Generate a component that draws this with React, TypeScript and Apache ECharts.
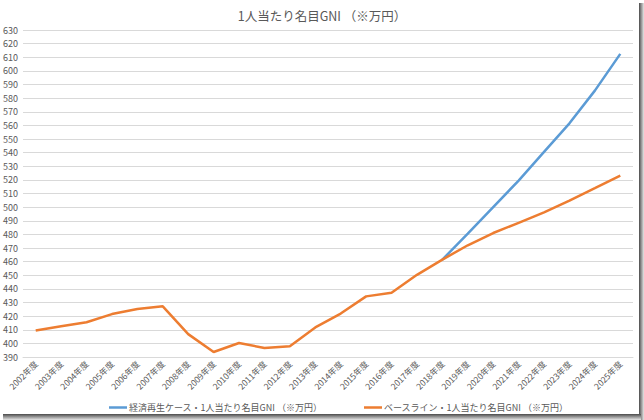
import React, { useEffect, useRef } from "react";
import * as echarts from "echarts";

const years = [
  "2002年度", "2003年度", "2004年度", "2005年度", "2006年度", "2007年度",
  "2008年度", "2009年度", "2010年度", "2011年度", "2012年度", "2013年度",
  "2014年度", "2015年度", "2016年度", "2017年度", "2018年度", "2019年度",
  "2020年度", "2021年度", "2022年度", "2023年度", "2024年度", "2025年度",
];

const revivalName = "経済再生ケース・1人当たり名目GNI （※万円）";
const baselineName = "ベースライン・1人当たり名目GNI （※万円）";

const revivalValues: (number | null)[] = [
  null, null, null, null, null, null, null, null, null, null, null, null,
  null, null, null, null, 461.5, 480.5, 500, 519.5, 540.5, 561.5, 585.5, 612.5,
];

const baselineValues: number[] = [
  409.5, 412.5, 415.5, 421.5, 425.3, 427.2, 406.8, 393.7, 400.3, 396.6, 397.9, 411.7,
  421.9, 434.5, 437.2, 450.3, 461.5, 472, 481, 488.5, 496.2, 504.8, 513.9, 523.2,
];

const FONT = "'Noto Sans CJK JP', 'Noto Sans', sans-serif";
const TXT = "#595959";

export default function App() {
  const ref = useRef<HTMLDivElement>(null);
  useEffect(() => {
    if (!ref.current) return;
    const chart = echarts.init(ref.current, null, { renderer: "svg" });
    chart.setOption({
      animation: false,
      backgroundColor: "#ffffff",
      textStyle: { fontFamily: FONT },
      title: {
        text: "1人当たり名目GNI （※万円）",
        left: "center",
        top: 4,
        textStyle: { fontFamily: FONT, fontSize: 12.5, fontWeight: "normal", color: TXT },
      },
      legend: [
        {
          data: [revivalName],
          left: 104,
          top: 398,
          icon: "rect",
          itemWidth: 18,
          itemHeight: 2.5,
          itemGap: 2,
          textStyle: { fontFamily: FONT, fontSize: 9, color: TXT, padding: [0, 0, 0, -3] },
        },
        {
          data: [baselineName],
          left: 359,
          top: 398,
          icon: "rect",
          itemWidth: 18,
          itemHeight: 2.5,
          textStyle: { fontFamily: FONT, fontSize: 9, color: TXT, padding: [0, 0, 0, -3] },
        },
      ],
      grid: { left: 23, right: 11, top: 30, bottom: 63, containLabel: false },
      xAxis: {
        type: "category",
        data: years,
        boundaryGap: true,
        axisLine: { show: true, lineStyle: { color: "#d9d9d9", width: 1 } },
        axisTick: { show: false },
        axisLabel: {
          rotate: 45,
          fontSize: 8.5,
          color: TXT,
          fontFamily: FONT,
          margin: 5,
          interval: 0,
        },
      },
      yAxis: {
        type: "value",
        min: 390,
        max: 630,
        interval: 10,
        axisLine: { show: false },
        axisTick: { show: false },
        axisLabel: { fontSize: 9, color: TXT, fontFamily: FONT, margin: 5 },
        splitLine: { lineStyle: { color: "#d9d9d9", width: 1 } },
      },
      series: [
        {
          name: revivalName,
          type: "line",
          data: revivalValues,
          showSymbol: false,
          symbol: "none",
          lineStyle: { color: "#5B9BD5", width: 2.5 },
          itemStyle: { color: "#5B9BD5" },
          connectNulls: false,
          z: 2,
        },
        {
          name: baselineName,
          type: "line",
          data: baselineValues,
          showSymbol: false,
          symbol: "none",
          lineStyle: { color: "#ED7D31", width: 2.5 },
          itemStyle: { color: "#ED7D31" },
          z: 3,
        },
      ],
      graphic: [
        {
          type: "rect",
          shape: { x: 639, y: 3, width: 5, height: 417 },
          style: {
            fill: new echarts.graphic.LinearGradient(0, 0, 1, 0, [
              { offset: 0, color: "#4a4a4a" },
              { offset: 0.4, color: "#8a8a8a" },
              { offset: 1, color: "#e6e6e6" },
            ]),
          },
          z: 100,
        },
        {
          type: "rect",
          shape: { x: 3, y: 414, width: 638, height: 6 },
          style: {
            fill: new echarts.graphic.LinearGradient(0, 0, 0, 1, [
              { offset: 0, color: "#4a4a4a" },
              { offset: 0.4, color: "#8a8a8a" },
              { offset: 1, color: "#e6e6e6" },
            ]),
          },
          z: 100,
        },
      ],
    });
    return () => chart.dispose();
  }, []);
  return (
    <div
      ref={ref}
      style={{ position: "absolute", left: 0, top: 0, width: 644, height: 420 }}
    />
  );
}
